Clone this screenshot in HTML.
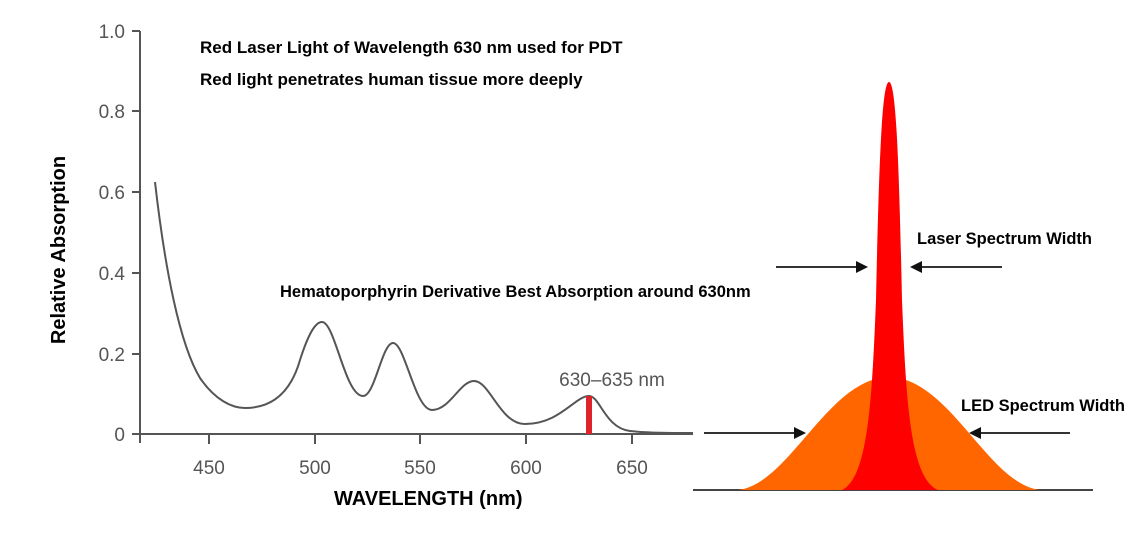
<!DOCTYPE html>
<html><head><meta charset="utf-8"><style>
html,body{margin:0;padding:0;background:#fff;width:1140px;height:537px;overflow:hidden}
svg{display:block}
.b{font-family:"Liberation Sans",sans-serif;font-weight:bold;fill:#000}
.t{font-family:"Liberation Sans",sans-serif;fill:#555;font-size:19px}
</style></head><body>
<svg width="1140" height="537" viewBox="0 0 1140 537">
<g stroke="#555" stroke-width="2" fill="none">
<line x1="140" y1="31" x2="140" y2="443"/>
<line x1="132" y1="434" x2="693" y2="434"/>
<line x1="132" y1="31" x2="140" y2="31"/>
<line x1="132" y1="111" x2="140" y2="111"/>
<line x1="132" y1="192" x2="140" y2="192"/>
<line x1="132" y1="273" x2="140" y2="273"/>
<line x1="132" y1="354" x2="140" y2="354"/>
<line x1="209" y1="434" x2="209" y2="444"/>
<line x1="315" y1="434" x2="315" y2="444"/>
<line x1="420" y1="434" x2="420" y2="444"/>
<line x1="526" y1="434" x2="526" y2="444"/>
<line x1="632" y1="434" x2="632" y2="444"/>
</g>
<g class="t" text-anchor="end">
<text x="125" y="38">1.0</text>
<text x="125" y="118">0.8</text>
<text x="125" y="199">0.6</text>
<text x="125" y="280">0.4</text>
<text x="125" y="361">0.2</text>
<text x="125" y="441">0</text>
</g>
<g class="t" text-anchor="middle">
<text x="209" y="474">450</text>
<text x="315" y="474">500</text>
<text x="420" y="474">550</text>
<text x="526" y="474">600</text>
<text x="632" y="474">650</text>
<text x="612" y="386">630–635 nm</text>
</g>
<path d="M155,182 C165,270 180,345 200,378 C215,400 232,408 245,408 C270,408 290,395 300,360 C308,335 315,322 322,322 C335,322 345,396 363,396 C375,396 382,343 393,343 C405,343 415,410 432,410 C450,410 460,381 474,381 C490,381 500,424 525,424 C560,424 575,396 589,396 C600,396 605,428 630,431 C650,433 670,433 693,433" fill="none" stroke="#555" stroke-width="2"/>
<rect x="586" y="396" width="6" height="38" fill="#e0222a"/>
<g class="b" font-size="17">
<text x="200" y="53">Red Laser Light of Wavelength 630 nm  used for PDT</text>
<text x="200" y="85">Red light penetrates human tissue more deeply</text>
<text x="280" y="297" font-size="16.5">Hematoporphyrin Derivative Best Absorption around 630nm</text>
</g>
<text class="b" font-size="20" x="334" y="505">WAVELENGTH (nm)</text>
<text class="b" font-size="20" transform="translate(65,250) rotate(-90)" text-anchor="middle">Relative Absorption</text>
<line x1="693" y1="490" x2="1093" y2="490" stroke="#444" stroke-width="2"/>
<path d="M738,490 C790,484 828,378 889,377 C950,378 988,484 1040,490 Z" fill="#ff6600"/>
<path d="M842,490 C868,478 872,400 876,300 C879,160 882,82 889,82 C896,82 899,160 902,300 C906,400 910,478 938,490 Z" fill="#ff0000"/>
<g stroke="#333" stroke-width="2">
<line x1="776" y1="267" x2="858" y2="267"/>
<line x1="920" y1="267" x2="1002" y2="267"/>
<line x1="704" y1="433" x2="796" y2="433"/>
<line x1="979" y1="433" x2="1070" y2="433"/>
</g>
<g fill="#111">
<polygon points="868,267 856,261 856,273"/>
<polygon points="910,267 922,261 922,273"/>
<polygon points="806,433 794,427 794,439"/>
<polygon points="969,433 981,427 981,439"/>
</g>
<g class="b" font-size="16.5">
<text x="917" y="244">Laser Spectrum Width</text>
<text x="961" y="411">LED Spectrum Width</text>
</g>
</svg>
</body></html>
